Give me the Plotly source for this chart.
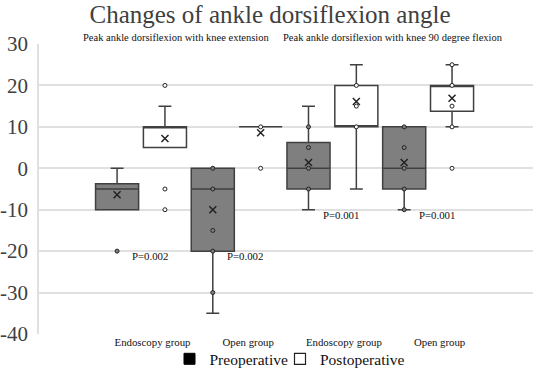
import plotly.graph_objects as go

# ---------------- data ----------------
groups = ["Endoscopy group", "Open group", "Endoscopy group", "Open group"]
group_pos = [1, 2, 3, 4]

# Preoperative box statistics per group
pre_q1 = [-10, -20, -5, -5]
pre_median = [-5, -5, 0, 0]
pre_q3 = [-3.75, 0, 6.25, 10]
pre_low = [-10, -35, -10, -10]
pre_high = [0, 0, 15, 10]
pre_mean = [-6.4, -10, 1.4, 1.4]
pre_points = [[-20], [0, -5, -15, -20, -30], [10, 5, 0, -5], [10, 5, 0, -5, -10]]

# Postoperative box statistics per group
post_q1 = [5, 10, 10, 13.75]
post_median = [10, 10, 10, 20]
post_q3 = [10, 10, 20, 20]
post_low = [5, 10, -5, 10]
post_high = [15, 10, 25, 25]
post_mean = [7.2, 8.6, 16.1, 16.9]
post_points = [[20, -5, -10], [10, 0], [20, 10, 15], [25, 20, 15, 10, 0]]

p_labels = ["P=0.002", "P=0.002", "P=0.001", "P=0.001"]
p_y = [-21.2, -21.2, -11.3, -11.3]

subtitles = ["Peak ankle dorsiflexion with knee extension",
             "Peak ankle dorsiflexion with knee 90 degree flexion"]

y_ticks = [30, 20, 10, 0, -10, -20, -30, -40]
y_tick_labels = ["30", "20", "10", "0", "-10", "-20", "-30", "-40"]

# ---------------- style ----------------
FONT = "Liberation Serif, Times New Roman, serif"
OFF = 0.25
BW = 0.45
EDGE = "#404040"
PRE_FILL = "#7f7f7f"
POST_FILL = "#ffffff"

fig = go.Figure()

def add_series(offset, q1, med, q3, lo, hi, mean, pts, fill, ptfill):
    xs = [p + offset for p in group_pos]
    fig.add_trace(go.Box(
        x=xs, q1=q1, median=med, q3=q3, lowerfence=lo, upperfence=hi,
        width=BW, fillcolor=fill, line=dict(color=EDGE, width=1.5),
        whiskerwidth=0.3, boxpoints=False, showlegend=False, hoverinfo="skip"))
    px, py = [], []
    for x, vals in zip(xs, pts):
        for v in vals:
            px.append(x)
            py.append(v)
    fig.add_trace(go.Scatter(
        x=px, y=py, mode="markers", showlegend=False, hoverinfo="skip",
        marker=dict(symbol="circle", size=4, color=ptfill,
                    line=dict(color="#222222", width=1))))
    fig.add_trace(go.Scatter(
        x=xs, y=mean, mode="markers", showlegend=False, hoverinfo="skip",
        marker=dict(symbol="x-thin", size=7,
                    line=dict(color="#222222", width=1.5))))

add_series(-OFF, pre_q1, pre_median, pre_q3, pre_low, pre_high, pre_mean,
           pre_points, PRE_FILL, PRE_FILL)
add_series(OFF, post_q1, post_median, post_q3, post_low, post_high, post_mean,
           post_points, POST_FILL, POST_FILL)

# legend entries (two single-item legends for tight spacing)
fig.add_trace(go.Scatter(x=[None], y=[None], mode="markers", name="Preoperative",
                         legend="legend",
                         marker=dict(symbol="square", size=11, color="#000000",
                                     line=dict(color="#000000", width=1))))
fig.add_trace(go.Scatter(x=[None], y=[None], mode="markers", name="Postoperative",
                         legend="legend2",
                         marker=dict(symbol="square", size=11, color="#ffffff",
                                     line=dict(color="#222222", width=1.2))))

# P-value annotations
for g, lab, yv in zip(group_pos, p_labels, p_y):
    fig.add_annotation(x=g + 0.09, y=yv, text=lab, showarrow=False,
                       font=dict(family=FONT, size=10.8, color="#111111"),
                       xanchor="center", yanchor="middle")

# Subtitles
sub_x = [1.37, 3.63]
for sx, st in zip(sub_x, subtitles):
    fig.add_annotation(x=sx, y=1.0, yref="paper", text=st, showarrow=False,
                       font=dict(family=FONT, size=10.5, color="#111111"),
                       xanchor="center", yanchor="bottom", yshift=-1)

leg_common = dict(orientation="h", xref="container", xanchor="left",
                  y=-0.087, yanchor="middle",
                  font=dict(family=FONT, size=15.5, color="#111111"),
                  itemwidth=30, bgcolor="rgba(0,0,0,0)")

fig.update_layout(
    width=536, height=374,
    margin=dict(l=39, r=3, t=44, b=40, autoexpand=False),
    paper_bgcolor="white", plot_bgcolor="white",
    title=dict(text="Changes of ankle dorsiflexion angle", x=270 / 536, xanchor="center",
               y=0.962, yanchor="middle",
               font=dict(family=FONT, size=25, color="#404040")),
    font=dict(family=FONT, color="#404040"),
    showlegend=True,
    legend=dict(x=(189.5 - 20) / 536, **leg_common),
    legend2=dict(x=(300 - 20) / 536, **leg_common),
    xaxis=dict(range=[-0.066, 5.096], showgrid=False, zeroline=False, automargin=False,
               tickvals=[g + 0.12 for g in group_pos], ticktext=groups,
               tickfont=dict(family=FONT, size=10.8, color="#111111"),
               ticks="", showline=False, ticklabelstandoff=0),
    yaxis=dict(range=[-40, 30], tickvals=y_ticks, ticktext=y_tick_labels,
               showgrid=True, automargin=False,
               gridcolor="#e0e0e0", gridwidth=1.5, zeroline=False,
               showline=True, linecolor="#e0e0e0", linewidth=1.5,
               tickfont=dict(family=FONT, size=21, color="#404040"),
               ticks="", ticklabelstandoff=5),
)

fig.write_html("out.html", config={"displayModeBar": False},
               post_script="document.body.style.margin='0';")
